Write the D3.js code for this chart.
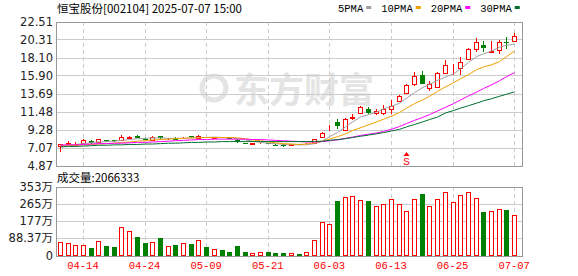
<!DOCTYPE html>
<html>
<head>
<meta charset="utf-8">
<title>恒宝股份 K线</title>
<style>
body {
    margin: 0;
    background-color: #fff;
}
svg {
    display: block;
}
</style>
<script src="https://cdn.jsdelivr.net/npm/d3@7/dist/d3.min.js"></script>
</head>
<body>
<script>
var dates = ["04-09","04-10","04-11","04-14","04-15","04-16","04-17","04-18","04-21","04-22",
    "04-23","04-24","04-25","04-28","04-29","04-30","05-06","05-07","05-08","05-09",
    "05-12","05-13","05-14","05-15","05-16","05-19","05-20","05-21","05-22","05-23",
    "05-26","05-27","05-28","05-29","05-30","06-03","06-04","06-05","06-06","06-09",
    "06-10","06-11","06-12","06-13","06-16","06-17","06-18","06-19","06-20","06-23",
    "06-24","06-25","06-26","06-27","06-30","07-01","07-02","07-03","07-04","07-07"];

var opens = [7.20,7.45,7.35,7.65,7.85,7.75,8.00,7.95,7.95,8.30,
    8.50,8.15,8.00,8.45,8.10,8.15,8.25,8.45,8.20,8.35,
    8.30,8.35,8.25,7.97,7.60,7.55,7.55,7.60,7.42,7.42,
    7.40,7.50,7.50,7.60,8.40,9.65,10.20,9.25,10.75,11.35,
    11.80,11.30,11.30,11.75,12.75,13.70,14.80,16.00,14.40,14.50,
    16.20,16.70,16.80,17.90,19.20,19.60,18.80,19.05,20.05,20.15];
var highs = [7.55,7.90,7.70,8.15,7.95,8.15,8.05,8.05,8.55,8.45,
    8.60,8.20,8.50,8.50,8.20,8.35,8.35,8.50,8.60,8.40,
    8.40,8.40,8.30,8.10,7.62,7.60,7.58,7.60,7.45,7.45,
    7.50,7.55,7.60,8.15,8.95,9.78,10.60,10.65,11.20,12.10,
    12.00,11.75,12.30,12.90,13.50,14.80,16.30,16.50,15.20,16.30,
    17.80,17.30,18.20,19.30,20.45,20.10,20.10,20.25,20.60,21.05];
var lows = [6.50,7.40,7.30,7.60,7.55,7.70,7.80,7.80,7.90,8.25,
    8.20,8.00,7.95,8.15,8.05,8.05,8.20,8.30,8.15,8.20,
    8.25,8.20,8.10,7.65,7.52,7.52,7.52,7.50,7.30,7.15,
    7.35,7.40,7.45,7.55,8.35,9.10,9.30,9.20,10.40,11.30,
    11.20,11.10,11.00,11.20,12.70,13.60,14.60,14.85,14.00,14.40,
    16.10,16.00,16.00,17.80,18.75,18.80,18.75,18.50,19.20,20.00];
var closes = [7.50,7.65,7.50,8.00,7.60,8.10,7.85,7.85,8.40,8.35,
    8.25,8.05,8.40,8.20,8.12,8.10,8.30,8.35,8.50,8.25,
    8.32,8.25,8.15,7.70,7.57,7.57,7.56,7.55,7.38,7.20,
    7.45,7.45,7.55,8.10,8.90,9.75,9.65,10.60,10.85,12.05,
    11.25,11.50,11.80,12.20,13.40,14.75,15.80,14.90,14.80,16.20,
    17.20,16.70,17.60,19.20,19.95,19.30,18.85,20.00,19.95,20.75];

// 成交量, 单位: 万
var volumes = [71,66,56,54,36,74,51,46,146,125,
    96,66,71,91,49,56,66,61,80,46,
    34,30,20,49,20,14,17,20,15,15,
    14,10,20,80,171,161,279,298,305,283,
    279,254,262,288,262,227,288,315,254,288,
    324,274,308,324,293,223,229,237,234,207];

var ma5 = [7.35,7.40,7.45,7.55,7.65,7.75,7.80,7.85,7.95,8.05,
    8.15,8.20,8.25,8.25,8.20,8.20,8.20,8.25,8.30,8.30,
    8.35,8.30,8.30,8.15,8.00,7.85,7.70,7.60,7.55,7.45,
    7.45,7.40,7.40,7.55,7.85,8.40,8.90,9.60,10.20,10.80,
    11.10,11.40,11.80,12.10,12.50,13.10,13.80,14.40,14.80,15.30,
    15.70,16.10,16.70,17.50,18.20,18.55,18.90,19.35,19.60,19.75];
var ma10 = [7.30,7.30,7.35,7.40,7.45,7.50,7.55,7.60,7.70,7.75,
    7.85,7.90,8.00,8.05,8.10,8.15,8.20,8.25,8.25,8.30,
    8.30,8.30,8.30,8.25,8.15,8.00,7.90,7.75,7.65,7.55,
    7.50,7.45,7.50,7.65,7.85,8.10,8.40,8.75,9.15,9.50,
    9.85,10.20,10.55,10.90,11.35,11.90,12.45,12.90,13.35,13.95,
    14.50,15.00,15.50,16.00,16.60,16.95,17.20,17.60,18.20,18.90];
var ma20 = [7.35,7.40,7.40,7.45,7.50,7.55,7.55,7.60,7.60,7.65,
    7.70,7.70,7.75,7.80,7.85,7.90,7.95,8.00,8.05,8.05,
    8.10,8.10,8.10,8.10,8.10,8.05,8.05,8.00,7.95,7.90,
    7.85,7.80,7.75,7.75,7.80,7.90,8.00,8.20,8.35,8.55,
    8.70,8.85,9.05,9.30,9.65,10.00,10.40,10.75,11.10,11.55,
    12.00,12.45,12.90,13.40,13.85,14.30,14.75,15.25,15.75,16.25];
var ma30 = [7.15,7.20,7.20,7.25,7.30,7.35,7.35,7.40,7.40,7.45,
    7.45,7.50,7.50,7.55,7.60,7.60,7.65,7.70,7.70,7.75,
    7.75,7.80,7.80,7.80,7.80,7.80,7.80,7.80,7.80,7.80,
    7.80,7.80,7.80,7.82,7.85,7.95,8.05,8.15,8.30,8.45,
    8.60,8.75,8.90,9.10,9.30,9.60,9.90,10.20,10.50,10.80,
    11.30,11.60,11.90,12.20,12.50,12.80,13.05,13.35,13.60,13.90];

var priceTicks = [4.87, 7.07, 9.28, 11.48, 13.69, 15.90, 18.10, 20.31, 22.51];
var volTicks = [0, 88.37, 177, 265, 353];
var volTickLabels = ["0", "88.37万", "177万", "265万", "353万"];
var dateTicks = ["04-14","04-24","05-09","05-21","06-03","06-13","06-25","07-07"];
var maNames = ["5PMA", "10PMA", "20PMA", "30PMA"];
var maColors = ["#a0a0a0", "#f0a000", "#ff00ff", "#006f2e"];

var width = 578,
    height = 276;
var left = 56, right = 522;
var red = "#ff0000", green = "#008000";

var svg = d3.select("body")
    .append("svg")
    .attr("width", width)
    .attr("height", height)
    .style("font-family", "'DejaVu Sans', sans-serif");

var x = d3.scaleBand().domain(dates).range([left, 518]);
var y = d3.scaleLinear().domain([4.87, 22.51]).range([165.5, 21.5]);
var yv = d3.scaleLinear().domain([0, 353]).range([255.5, 186.5]);

var cx = function(i) {
    return Math.round(x(dates[i]) + x.bandwidth() / 2);
};
var px = function(v) {
    return Math.round(v) + 0.5;
};

// watermark
var wm = svg.append("g").attr("fill", "#e4e4e4");
wm.append("circle").attr("cx", 214).attr("cy", 88).attr("r", 12)
    .attr("fill", "none").attr("stroke", "#e4e4e4").attr("stroke-width", 5);
wm.append("text").attr("x", 234).attr("y", 103)
    .style("font-family", "'Noto Sans CJK SC'").style("font-size", "35px").style("font-weight", "bold")
    .text("东方财富");

// title and legend
svg.append("text").attr("x", 57).attr("y", 13)
    .style("font-family", "'Noto Sans CJK SC'").style("font-size", "11.5px").attr("fill", "#000")
    .text("恒宝股份[002104] 2025-07-07 15:00");

var legend = svg.append("g").style("font-family", "'Liberation Mono', monospace").style("font-size", "10.5px");
var lx = 338;
maNames.forEach(function(name, k) {
    var t = legend.append("text").attr("x", lx).attr("y", 12).attr("fill", "#000").text(name);
    var w = t.node().getComputedTextLength();
    legend.append("rect").attr("x", lx + w + 3).attr("y", 6).attr("width", 5).attr("height", 3)
        .attr("fill", maColors[k]);
    lx += w + 18;
});

// grids
var grid = svg.append("g").attr("shape-rendering", "crispEdges");
grid.selectAll(".hg").data(priceTicks.slice(1, -1)).enter().append("line")
    .attr("x1", left).attr("x2", right)
    .attr("y1", function(d) { return px(y(d)); }).attr("y2", function(d) { return px(y(d)); })
    .attr("stroke", "#cccccc");
grid.selectAll(".vhg").data(volTicks.slice(1, -1)).enter().append("line")
    .attr("x1", left).attr("x2", right)
    .attr("y1", function(d) { return px(yv(d)); }).attr("y2", function(d) { return px(yv(d)); })
    .attr("stroke", "#cccccc");
dateTicks.forEach(function(d) {
    var xx = cx(dates.indexOf(d)) + 0.5;
    grid.append("line").attr("x1", xx).attr("x2", xx).attr("y1", y(22.51)).attr("y2", y(4.87))
        .attr("stroke", "#cccccc").attr("stroke-dasharray", "4,3");
    grid.append("line").attr("x1", xx).attr("x2", xx).attr("y1", yv(353)).attr("y2", yv(0))
        .attr("stroke", "#cccccc").attr("stroke-dasharray", "4,3");
});

// frames
svg.append("rect").attr("x", left + 0.5).attr("y", px(y(22.51)))
    .attr("width", right - left).attr("height", Math.round(y(4.87)) - Math.round(y(22.51)))
    .attr("fill", "none").attr("stroke", "#999").attr("shape-rendering", "crispEdges");
svg.append("rect").attr("x", left + 0.5).attr("y", px(yv(353)))
    .attr("width", right - left).attr("height", Math.round(yv(0)) - Math.round(yv(353)))
    .attr("fill", "none").attr("stroke", "#999").attr("shape-rendering", "crispEdges");

// axes
var yAxis = d3.axisLeft(y).tickValues(priceTicks).tickSize(0).tickPadding(3)
    .tickFormat(function(d) { return d.toFixed(2); });
var ga = svg.append("g").attr("transform", "translate(" + left + ",0)").call(yAxis);
ga.select(".domain").remove();
ga.selectAll("text").style("font-size", "11.5px").style("font-family", "'DejaVu Sans', sans-serif").attr("fill", "#222");

var vAxis = d3.axisLeft(yv).tickValues(volTicks).tickSize(0).tickPadding(3)
    .tickFormat(function(d, i) { return volTickLabels[i]; });
var gv = svg.append("g").attr("transform", "translate(" + left + ",0)").call(vAxis);
gv.select(".domain").remove();
gv.selectAll("text").style("font-size", "11.5px").style("font-family", "'DejaVu Sans', 'Noto Sans CJK SC', sans-serif").attr("fill", "#222");

var xAxis = d3.axisBottom(x).tickValues(dateTicks).tickSize(0).tickPadding(6);
var gx = svg.append("g").attr("transform", "translate(0," + Math.round(yv(0)) + ")").call(xAxis);
gx.select(".domain").remove();
gx.selectAll("text").style("font-size", "10.5px").style("font-family", "'Liberation Mono', monospace").attr("fill", red);

// candles
var idx = d3.range(dates.length);
var isUp = function(i) { return closes[i] >= opens[i]; };
var candles = svg.append("g").attr("shape-rendering", "crispEdges");
candles.selectAll(".wick").data(idx).enter().append("line")
    .attr("x1", function(i) { return cx(i) + 0.5; })
    .attr("x2", function(i) { return cx(i) + 0.5; })
    .attr("y1", function(i) { return Math.round(y(highs[i])); })
    .attr("y2", function(i) { return Math.round(y(lows[i])); })
    .attr("stroke", function(i) { return isUp(i) ? red : green; });
candles.selectAll(".body").data(idx).enter().append("rect")
    .attr("x", function(i) { return isUp(i) ? cx(i) - 2 + 0.5 : cx(i) - 2; })
    .attr("y", function(i) {
        var t = Math.round(y(Math.max(opens[i], closes[i])));
        return isUp(i) ? t + 0.5 : t;
    })
    .attr("width", function(i) { return isUp(i) ? 4 : 5; })
    .attr("height", function(i) {
        var h = Math.round(y(Math.min(opens[i], closes[i]))) - Math.round(y(Math.max(opens[i], closes[i])));
        return isUp(i) ? Math.max(h, 0) : Math.max(h, 1);
    })
    .attr("fill", function(i) { return isUp(i) ? "#fff" : green; })
    .attr("stroke", function(i) { return isUp(i) ? red : "none"; });

// moving averages
var maSeries = [ma5, ma10, ma20, ma30];
var line = d3.line().x(function(d, i) { return cx(i) + 0.5; }).y(function(d) { return y(d); });
maSeries.forEach(function(s, k) {
    svg.append("path").datum(s).attr("d", line)
        .attr("fill", "none").attr("stroke", maColors[k]).attr("stroke-width", 1);
});

// S marker
var sx = cx(45) + 0.5;
svg.append("path").attr("d", "M" + (sx - 3) + ",156 L" + sx + ",152 L" + (sx + 3) + ",156 Z").attr("fill", red);
svg.append("text").attr("x", sx).attr("y", 165).attr("text-anchor", "middle")
    .style("font-family", "'Liberation Mono', monospace").style("font-size", "11px").attr("fill", red).text("S");

// volume
svg.append("text").attr("x", 57).attr("y", 182)
    .style("font-family", "'Noto Sans CJK SC'").style("font-size", "11.5px").attr("fill", "#000")
    .text("成交量:2066333");
var vols = svg.append("g").attr("shape-rendering", "crispEdges");
vols.selectAll(".vb").data(idx).enter().append("rect")
    .attr("x", function(i) { return isUp(i) ? cx(i) - 2 + 0.5 : cx(i) - 2; })
    .attr("y", function(i) { return isUp(i) ? Math.round(yv(volumes[i])) + 0.5 : Math.round(yv(volumes[i])); })
    .attr("width", function(i) { return isUp(i) ? 4 : 5; })
    .attr("height", function(i) {
        var h = Math.round(yv(0)) - Math.round(yv(volumes[i]));
        return isUp(i) ? h - 1 : h;
    })
    .attr("fill", function(i) { return isUp(i) ? "#fff" : green; })
    .attr("stroke", function(i) { return isUp(i) ? red : "none"; });
</script>
</body>
</html>
